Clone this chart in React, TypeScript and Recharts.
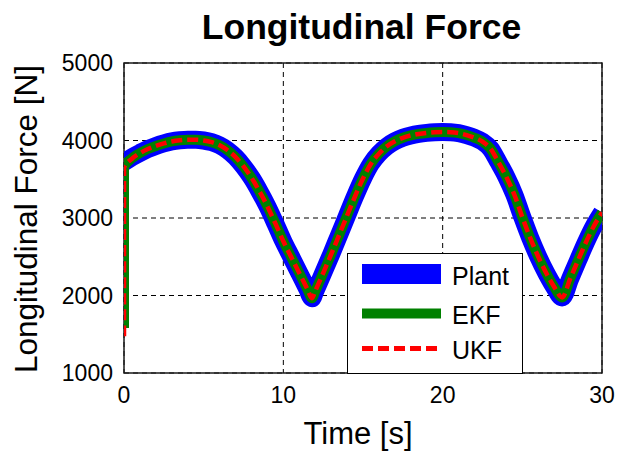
import React from 'react';
import { LineChart, Line, XAxis, YAxis, CartesianGrid, Legend, ReferenceArea, Label } from 'recharts';

// Sample times [s]
const time = [
  0, 0.5, 1, 1.5, 2, 2.5, 3, 3.5, 4, 4.5, 5, 5.5, 6, 6.5, 7, 7.5, 8, 8.5, 9, 9.5,
  10, 10.5, 11, 11.5, 11.8, 12, 12.5, 13, 13.5, 14, 14.5, 15, 15.5, 16, 16.5, 17, 17.5, 18, 18.5, 19, 19.5,
  20, 20.5, 21, 21.5, 22, 22.5, 23, 23.5, 24, 24.5, 25, 25.5, 26, 26.5, 27, 27.5, 28, 28.5, 29, 29.5, 30,
];

// Longitudinal force [N] of the plant
const plant = [
  3720, 3785, 3840, 3890, 3930, 3962, 3988, 4003, 4010, 4010, 4000, 3978, 3938, 3875, 3785, 3665, 3520, 3345, 3150, 2930,
  2700, 2495, 2290, 2085, 1965, 2055, 2290, 2530, 2780, 3030, 3280, 3510, 3700, 3830, 3925, 3990, 4035, 4065, 4085, 4098, 4106,
  4110, 4107, 4095, 4070, 4035, 3985, 3895, 3720, 3530, 3300, 3010, 2740, 2500, 2290, 2110, 1975, 2215, 2455, 2690, 2900, 3070,
];

// EKF estimate (starts from its initial guess at t = 0)
const ekfStart = 1580;
const ekf = [
  3660, 3770, 3838, 3890, 3930, 3962, 3988, 4003, 4010, 4010, 4000, 3978, 3938, 3875, 3785, 3665, 3520, 3345, 3150, 2930,
  2700, 2495, 2290, 2085, 1965, 2055, 2290, 2530, 2780, 3030, 3280, 3510, 3700, 3830, 3925, 3990, 4035, 4065, 4085, 4098, 4106,
  4110, 4107, 4095, 4070, 4035, 3985, 3895, 3720, 3530, 3300, 3010, 2740, 2500, 2290, 2110, 1975, 2215, 2455, 2690, 2900, 3070,
];

// UKF estimate (starts from its initial guess at t = 0)
const ukfStart = 1475;
const ukf = [
  3650, 3765, 3836, 3890, 3930, 3962, 3988, 4003, 4010, 4010, 4000, 3978, 3938, 3875, 3785, 3665, 3520, 3345, 3150, 2930,
  2700, 2495, 2290, 2085, 1965, 2055, 2290, 2530, 2780, 3030, 3280, 3510, 3700, 3830, 3925, 3990, 4035, 4065, 4085, 4098, 4106,
  4110, 4107, 4095, 4070, 4035, 3985, 3895, 3720, 3530, 3300, 3010, 2740, 2500, 2290, 2110, 1975, 2215, 2455, 2690, 2900, 3070,
];

const xTicks = [0, 10, 20, 30];
const yTicks = [1000, 2000, 3000, 4000, 5000];
const seriesNames = ['Plant', 'EKF', 'UKF'];

const FONT = "'Liberation Sans', Arial, Helvetica, sans-serif";

const plantData = time.map((t, i) => ({ t, v: plant[i] }));
const ekfData = [{ t: 0, v: ekfStart }, ...time.map((t, i) => ({ t, v: ekf[i] }))];
const ukfData = [{ t: 0, v: ukfStart }, ...time.map((t, i) => ({ t, v: ukf[i] }))];

const XTitle = () => (
  <text x={358} y={444} textAnchor="middle" fontSize={31} fontFamily={FONT} fill="#000">
    Time [s]
  </text>
);

const YTitle = () => (
  <text
    x={37}
    y={219}
    transform="rotate(-90 37 219)"
    textAnchor="middle"
    fontSize={31.5}
    fontFamily={FONT}
    fill="#000"
  >
    Longitudinal Force [N]
  </text>
);

const LegendBox = () => (
  <div
    style={{
      width: 176,
      height: 121,
      boxSizing: 'border-box',
      border: '1px solid #000',
      background: '#fff',
    }}
  >
    <svg width={174} height={119} style={{ display: 'block' }}>
      <line x1={14} x2={93} y1={20} y2={20} stroke="#0000ff" strokeWidth={20} />
      <line x1={14} x2={93} y1={59.5} y2={59.5} stroke="#008000" strokeWidth={10} />
      <line x1={14} x2={93} y1={94.5} y2={94.5} stroke="#ff0000" strokeWidth={5} strokeDasharray="11 5" />
      {seriesNames.map((name, i) => (
        <text key={name} x={104} y={[31, 69.5, 105][i]} fontSize={25} fontFamily={FONT} fill="#000">
          {name}
        </text>
      ))}
    </svg>
  </div>
);

export default function App() {
  return (
    <div style={{ position: 'absolute', left: 0, top: 0, width: 617, height: 453, background: '#fff' }}>
      <div
        style={{
          position: 'absolute',
          left: 361.5,
          top: 9.5,
          transform: 'translateX(-50%)',
          whiteSpace: 'nowrap',
          fontFamily: FONT,
          fontWeight: 'bold',
          fontSize: 35.5,
          lineHeight: '35.5px',
          color: '#000',
          zIndex: 2,
        }}
      >
        Longitudinal Force
      </div>
      <LineChart width={617} height={453} margin={{ top: 63, right: 15, bottom: 0, left: 0 }}>
        <CartesianGrid stroke="#000" strokeWidth={1} strokeDasharray="5 4" />
        <XAxis
          dataKey="t"
          type="number"
          domain={[0, 30]}
          ticks={xTicks}
          allowDataOverflow
          height={80}
          axisLine={false}
          tickLine={false}
          tickSize={0}
          tickMargin={14}
          tick={{ fill: '#000', fontSize: 23, fontFamily: FONT }}
        >
          <Label content={XTitle} />
        </XAxis>
        <YAxis
          type="number"
          domain={[1000, 5000]}
          ticks={yTicks}
          width={124}
          axisLine={false}
          tickLine={false}
          tickSize={0}
          tickMargin={11}
          tick={{ fill: '#000', fontSize: 23, fontFamily: FONT }}
        >
          <Label content={YTitle} />
        </YAxis>
        <ReferenceArea x1={0} x2={30} y1={1000} y2={5000} fill="none" stroke="#1a1a1a" strokeWidth={1.5} />
        <Line
          data={plantData}
          dataKey="v"
          name="Plant"
          type="monotone"
          stroke="#0000ff"
          strokeWidth={18}
          strokeLinejoin="round"
          dot={false}
          activeDot={false}
          isAnimationActive={false}
        />
        <Line
          data={ekfData}
          dataKey="v"
          name="EKF"
          type="monotone"
          stroke="#008000"
          strokeWidth={10}
          strokeLinejoin="round"
          dot={false}
          activeDot={false}
          isAnimationActive={false}
        />
        <Line
          data={ukfData}
          dataKey="v"
          name="UKF"
          type="monotone"
          stroke="#ff0000"
          strokeWidth={4.5}
          strokeDasharray="11 5"
          dot={false}
          activeDot={false}
          isAnimationActive={false}
        />
        <Legend
          layout="vertical"
          align="center"
          verticalAlign="middle"
          wrapperStyle={{ left: 347, top: 253, width: 176, height: 121 }}
          content={() => <LegendBox />}
        />
      </LineChart>
    </div>
  );
}
